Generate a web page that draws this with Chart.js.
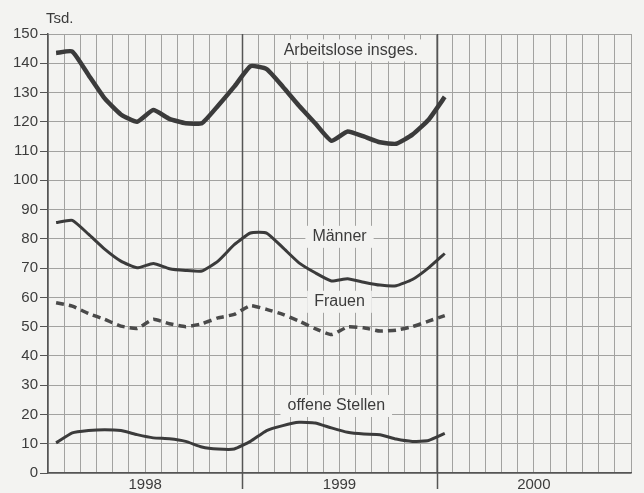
<!DOCTYPE html>
<html>
<head>
<meta charset="utf-8">
<script src="https://cdn.jsdelivr.net/npm/chart.js@4"></script>
<style>
    html, body { margin: 0; padding: 0; background: #f3f3f1; }
    #wrap { width: 644px; height: 493px; }
</style>
</head>
<body>
<div id="wrap"><canvas id="arbeitsmarktChart"></canvas></div>
<script>
// Monatswerte Jan 1998 - Jan 2000 (Tsd.)
const years = ['1998', '1999', '2000'];
const arbeitslose = [143.5, 144, 136, 128, 122.5, 120, 124, 121, 119.5, 119.5, 125.5, 132, 139,
                     138, 132, 125.5, 119.5, 113.5, 116.7, 115, 113, 112.5, 115.6, 120.7, 128.5];
const maenner = [85.6, 86.3, 81.6, 76.5, 72.4, 70.1, 71.6, 69.8, 69.2, 69, 72.4, 78, 82,
                 82, 77, 71.8, 68.4, 65.6, 66.4, 65.2, 64.2, 64, 66.1, 70.1, 75];
const frauen = [58.2, 57, 54.5, 52.5, 50.2, 49.4, 52.5, 51, 50, 51, 53, 54.2, 57.2,
                55.9, 54.2, 51.9, 49.3, 47.3, 49.9, 49.6, 48.5, 48.8, 50, 51.9, 53.8];
const offeneStellen = [10.3, 13.7, 14.5, 14.8, 14.5, 13.1, 12, 11.7, 10.8, 8.9, 8.2, 8.2, 10.8,
                       14.5, 16.2, 17.3, 17.1, 15.4, 13.9, 13.3, 13.1, 11.6, 10.8, 11.1, 13.5];
const yTicks = [0, 150, 10];

const LINE = '#3b3b3b';
const GRID = '#a2a2a0';
const DARK = '#555';
const FONT = '"Liberation Sans", Arial, sans-serif';

// month index -> mid-month position
const toPoints = (arr) => arr.map((v, i) => ({ x: i + 0.5, y: v }));

const seriesLabels = [
    { text: 'Arbeitslose insges.', x: 18.7, y: 144.4 },
    { text: 'Männer', x: 18.0, y: 80.7 },
    { text: 'Frauen', x: 18.0, y: 58.5 },
    { text: 'offene Stellen', x: 17.8, y: 22.9 }
];

const decorations = {
    id: 'decorations',
    beforeDraw(chart) {
        const { ctx } = chart;
        ctx.save();
        ctx.fillStyle = '#f3f3f1';
        ctx.fillRect(0, 0, chart.width, chart.height);
        ctx.restore();
    },
    beforeDatasetsDraw(chart) {
        const { ctx, chartArea, scales } = chart;
        // year separators, reaching below the axis
        ctx.save();
        ctx.strokeStyle = DARK;
        ctx.lineWidth = 1.5;
        [12, 24].forEach(m => {
            const x = Math.round(scales.x.getPixelForValue(m)) + 0.5;
            ctx.beginPath();
            ctx.moveTo(x, chartArea.top);
            ctx.lineTo(x, chartArea.bottom + 16);
            ctx.stroke();
        });
        // text labels with background patches
        ctx.font = '16px ' + FONT;
        ctx.textAlign = 'center';
        ctx.textBaseline = 'middle';
        seriesLabels.forEach(l => {
            const px = scales.x.getPixelForValue(l.x);
            const py = scales.y.getPixelForValue(l.y);
            const w = ctx.measureText(l.text).width;
            ctx.fillStyle = '#f3f3f1';
            ctx.fillRect(px - w / 2 - 7, py - 11, w + 14, 22);
            ctx.fillStyle = '#3c3c3c';
            ctx.fillText(l.text, px, py);
        });
        // unit
        ctx.textAlign = 'left';
        ctx.font = '15px ' + FONT;
        ctx.fillText('Tsd.', 46, 19);
        ctx.restore();
    }
};

new Chart(document.getElementById('arbeitsmarktChart'), {
    type: 'line',
    data: {
        datasets: [
            { label: 'Arbeitslose insges.', data: toPoints(arbeitslose), borderColor: LINE, borderWidth: 4.5, tension: 0.15 },
            { label: 'Männer', data: toPoints(maenner), borderColor: LINE, borderWidth: 3, tension: 0.15 },
            { label: 'Frauen', data: toPoints(frauen), borderColor: '#4a4a4a', borderWidth: 3.5, borderDash: [8, 5], tension: 0.15 },
            { label: 'offene Stellen', data: toPoints(offeneStellen), borderColor: LINE, borderWidth: 3, tension: 0.15 }
        ]
    },
    options: {
        responsive: true,
        maintainAspectRatio: false,
        animation: false,
        events: [],
        layout: { padding: { top: 34, right: 13, left: 0, bottom: 0 } },
        elements: { point: { radius: 0 } },
        plugins: {
            legend: { display: false },
            tooltip: { enabled: false }
        },
        scales: {
            x: {
                type: 'linear',
                min: 0,
                max: 36,
                afterFit: (scale) => { scale.height = 20; },
                border: { color: DARK, width: 1.5 },
                grid: {
                    color: GRID,
                    lineWidth: 1,
                    drawTicks: false
                },
                ticks: {
                    stepSize: 1,
                    autoSkip: false,
                    maxRotation: 0,
                    padding: 3,
                    color: '#3c3c3c',
                    font: { family: FONT, size: 15 },
                    callback: (v) => (v % 12 === 6 ? years[(v - 6) / 12] : '')
                }
            },
            y: {
                min: yTicks[0],
                max: yTicks[1],
                afterFit: (scale) => { scale.width = 48; },
                border: { color: DARK, width: 1.5 },
                grid: {
                    color: GRID,
                    lineWidth: 1,
                    tickLength: 8,
                    tickColor: DARK
                },
                ticks: {
                    stepSize: yTicks[2],
                    padding: 2,
                    color: '#3c3c3c',
                    font: { family: FONT, size: 15 }
                }
            }
        }
    },
    plugins: [decorations]
});
</script>
</body>
</html>
